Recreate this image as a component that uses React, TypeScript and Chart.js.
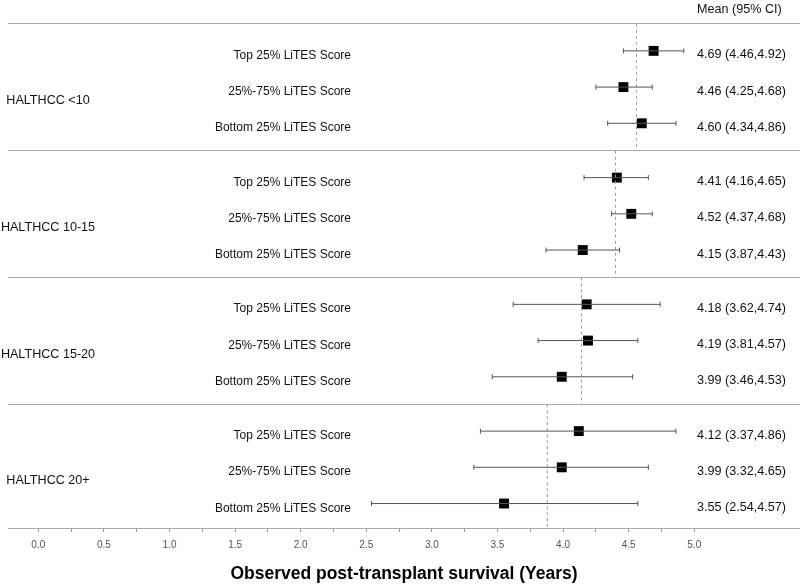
import React, { useEffect, useRef } from "react";
import { Chart, registerables } from "chart.js";

Chart.register(...registerables);

const groups = ["HALTHCC <10", "HALTHCC 10-15", "HALTHCC 15-20", "HALTHCC 20+"];
const subgroups = ["Top 25% LiTES Score", "25%-75% LiTES Score", "Bottom 25% LiTES Score"];
const means = [4.69, 4.46, 4.60, 4.41, 4.52, 4.15, 4.18, 4.19, 3.99, 4.12, 3.99, 3.55];
const lower = [4.46, 4.25, 4.34, 4.16, 4.37, 3.87, 3.62, 3.81, 3.46, 3.37, 3.32, 2.54];
const upper = [4.92, 4.68, 4.86, 4.65, 4.68, 4.43, 4.74, 4.57, 4.53, 4.86, 4.65, 4.57];
const refLines = [4.56, 4.40, 4.14, 3.88];
const majorTicks = [0, 0.5, 1, 1.5, 2, 2.5, 3, 3.5, 4, 4.5, 5];
const minorTicks = [0.25, 0.75, 1.25, 1.75, 2.25, 2.75, 3.25, 3.75, 4.25, 4.75];
const headerText = "Mean (95% CI)";
const xTitle = "Observed post-transplant survival (Years)";

const GROUP_SPAN = 3.5;
const ROW_OFFSET = 0.744;
const rowY = (i: number) => Math.floor(i / 3) * GROUP_SPAN + ROW_OFFSET + (i % 3);
const FONT = '"Liberation Sans", Arial, sans-serif';

export default function App() {
  const ref = useRef<HTMLCanvasElement | null>(null);
  useEffect(() => {
    if (!ref.current) return;
    const datasets: any[] = [];
    // CI bars
    means.forEach((m, i) => {
      datasets.push({
        data: [{ x: lower[i], y: rowY(i) }, { x: upper[i], y: rowY(i) }],
        showLine: true,
        borderColor: "#555",
        borderWidth: 1,
        pointStyle: "line",
        pointRotation: 90,
        pointRadius: 2.5,
        pointBorderColor: "#555",
        pointBorderWidth: 1,
        pointBackgroundColor: "#555",
      });
    });
    // reference dashed lines
    refLines.forEach((r, g) => {
      datasets.push({
        data: [{ x: r, y: g * GROUP_SPAN }, { x: r, y: (g + 1) * GROUP_SPAN }],
        showLine: true,
        borderColor: "#999",
        borderWidth: 1,
        borderDash: [3, 3],
        pointRadius: 0,
      });
    });
    // means
    datasets.push({
      data: means.map((m, i) => ({ x: m, y: rowY(i) })),
      pointStyle: "rect",
      pointRadius: 7,
      pointBorderWidth: 0,
      pointBackgroundColor: "#000",
      backgroundColor: "#000",
      showLine: false,
    });

    const textPlugin = {
      id: "forestText",
      afterDatasetsDraw(chart: any) {
        const ctx = chart.ctx;
        const y = chart.scales.y;
        ctx.save();
        ctx.fillStyle = "#111";
        ctx.textBaseline = "alphabetic";
        // subgroup labels
        ctx.font = `12px ${FONT}`;
        ctx.textAlign = "right";
        means.forEach((m, i) => {
          ctx.fillText(subgroups[i % 3], 351, y.getPixelForValue(rowY(i)) + 8);
        });
        // right labels
        ctx.font = `12.6px ${FONT}`;
        ctx.textAlign = "left";
        means.forEach((m, i) => {
          const t = `${m.toFixed(2)} (${lower[i].toFixed(2)},${upper[i].toFixed(2)})`;
          ctx.fillText(t, 697, y.getPixelForValue(rowY(i)) + 7.5);
        });
        ctx.fillText(headerText, 697, 12.5);
        // group labels
        ctx.textAlign = "center";
        groups.forEach((gname, g) => {
          ctx.fillText(gname, 48, y.getPixelForValue(rowY(g * 3 + 1)) + 17);
        });
        ctx.restore();
      },
    };

    const chart = new Chart(ref.current, {
      type: "scatter",
      data: { datasets },
      plugins: [textPlugin],
      options: {
        animation: false,
        responsive: false,
        devicePixelRatio: 1,
        layout: { autoPadding: false, padding: { left: 8, right: 0, top: 0, bottom: 0 } },
        plugins: { legend: { display: false }, tooltip: { enabled: false } },
        scales: {
          x: {
            type: "linear",
            min: -0.231,
            max: 5.806,
            afterBuildTicks: (scale: any) => {
              scale.ticks = [...majorTicks, ...minorTicks].sort((a, b) => a - b).map((v) => ({ value: v }));
            },
            afterFit: (scale: any) => {
              scale.height = 57;
              scale.paddingLeft = 0;
              scale.paddingRight = 0;
            },
            grid: {
              drawOnChartArea: false,
              drawTicks: true,
              tickLength: 4,
              tickColor: "#999",
              lineWidth: 1,
            },
            border: { display: true, color: "#aaa", width: 1 },
            ticks: {
              autoSkip: false,
              maxRotation: 0,
              padding: 7,
              color: "#555",
              font: { family: FONT, size: 10 },
              callback: (v: any) => (majorTicks.includes(Number(v)) ? Number(v).toFixed(1) : ""),
            },
            title: {
              display: true,
              text: xTitle,
              color: "#000",
              font: { family: FONT, size: 17.5, weight: "bold", lineHeight: 1.2 },
              padding: { top: 0, bottom: 0 },
            },
          },
          y: {
            type: "linear",
            reverse: true,
            min: -0.661,
            max: 13.92,
            afterBuildTicks: (scale: any) => {
              scale.ticks = groups.map((_, g) => ({ value: g * GROUP_SPAN }));
            },
            afterFit: (scale: any) => {
              scale.width = 0;
              scale.paddingTop = 0;
              scale.paddingBottom = 0;
            },
            grid: { drawTicks: false, color: "#aaa", lineWidth: 1 },
            border: { display: false },
            ticks: { display: false },
          },
        },
      },
    });
    return () => chart.destroy();
  }, []);
  return (
    <div style={{ position: "absolute", left: 0, top: 0, width: 800, height: 585, background: "#fff" }}>
      <canvas ref={ref} width={800} height={585} style={{ display: "block" }} />
    </div>
  );
}
